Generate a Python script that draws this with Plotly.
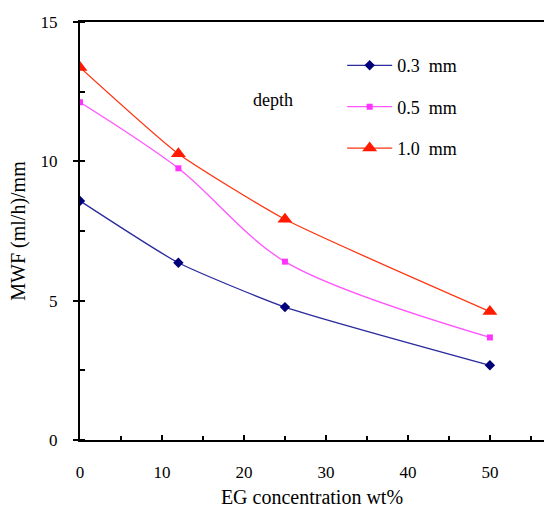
import plotly.graph_objects as go

eg_conc = [0, 12, 25, 50]
mwf_03 = [8.58, 6.36, 4.77, 2.68]
mwf_05 = [12.12, 9.75, 6.40, 3.68]
mwf_10 = [13.37, 10.27, 7.92, 4.61]
names = ["0.3\u00a0\u00a0mm", "0.5\u00a0\u00a0mm", "1.0\u00a0\u00a0mm"]

FONT = "Liberation Serif"

fig = go.Figure()
fig.add_trace(go.Scatter(x=eg_conc, y=mwf_03, name=names[0], legendgroup="a",
                         mode="lines+markers", line=dict(color="#2b2b9e", width=1.3, shape="spline", smoothing=0.5),
                         marker=dict(symbol="diamond", size=8, color="#00007a")))
fig.add_trace(go.Scatter(x=eg_conc, y=mwf_05, name=names[1], legendgroup="b",
                         mode="lines+markers", line=dict(color="#ff55ff", width=1.3, shape="spline", smoothing=0.9),
                         marker=dict(symbol="square", size=6, color="#ff33ff")))
fig.add_trace(go.Scatter(x=eg_conc, y=mwf_10, name=names[2], legendgroup="c",
                         mode="lines+markers", line=dict(color="#ff3311", width=1.3, shape="spline", smoothing=0.5),
                         marker=dict(symbol="triangle-up", size=13, color="#ff1a00")))

fig.add_annotation(x=23.5, y=12.2, text="depth", showarrow=False,
                   font=dict(family=FONT, size=18, color="black"))

fig.update_layout(
    width=544, height=508,
    margin=dict(l=80, r=0, t=22, b=68),
    paper_bgcolor="white", plot_bgcolor="white",
    font=dict(family=FONT, size=17, color="black"),
    showlegend=True,
    legend=dict(x=0.565, y=0.94, xanchor="left", yanchor="top",
                bgcolor="rgba(0,0,0,0)", tracegroupgap=15, traceorder="grouped",
                itemwidth=45,
                font=dict(family=FONT, size=18)),
    xaxis=dict(range=[0, 56.6], tickvals=[0, 10, 20, 30, 40, 50], automargin=False,
               showline=True, linecolor="black", linewidth=2, mirror=True,
               ticks="inside", ticklen=5, tickcolor="black", tickwidth=1.5,
               minor=dict(ticks="inside", dtick=5, ticklen=4, tickcolor="black", tickwidth=1.5),
               showgrid=False, zeroline=False, ticklabelstandoff=16,
               title=dict(text="EG concentration wt%", font=dict(family=FONT, size=20), standoff=16),
               tickfont=dict(family=FONT, size=17)),
    yaxis=dict(range=[0, 15], tickvals=[0, 5, 10, 15], automargin=False,
               showline=True, linecolor="black", linewidth=2,
               ticks="outside", ticklen=5, tickcolor="black", tickwidth=1.5,
               minor=dict(ticks="inside", dtick=2.5, ticklen=5, tickcolor="black", tickwidth=1.5),
               showgrid=False, zeroline=False, ticklabelstandoff=12,
               title=dict(text="MWF (ml/h)/mm", font=dict(family=FONT, size=20), standoff=10),
               tickfont=dict(family=FONT, size=17)),
)

fig.write_html("out.html")
